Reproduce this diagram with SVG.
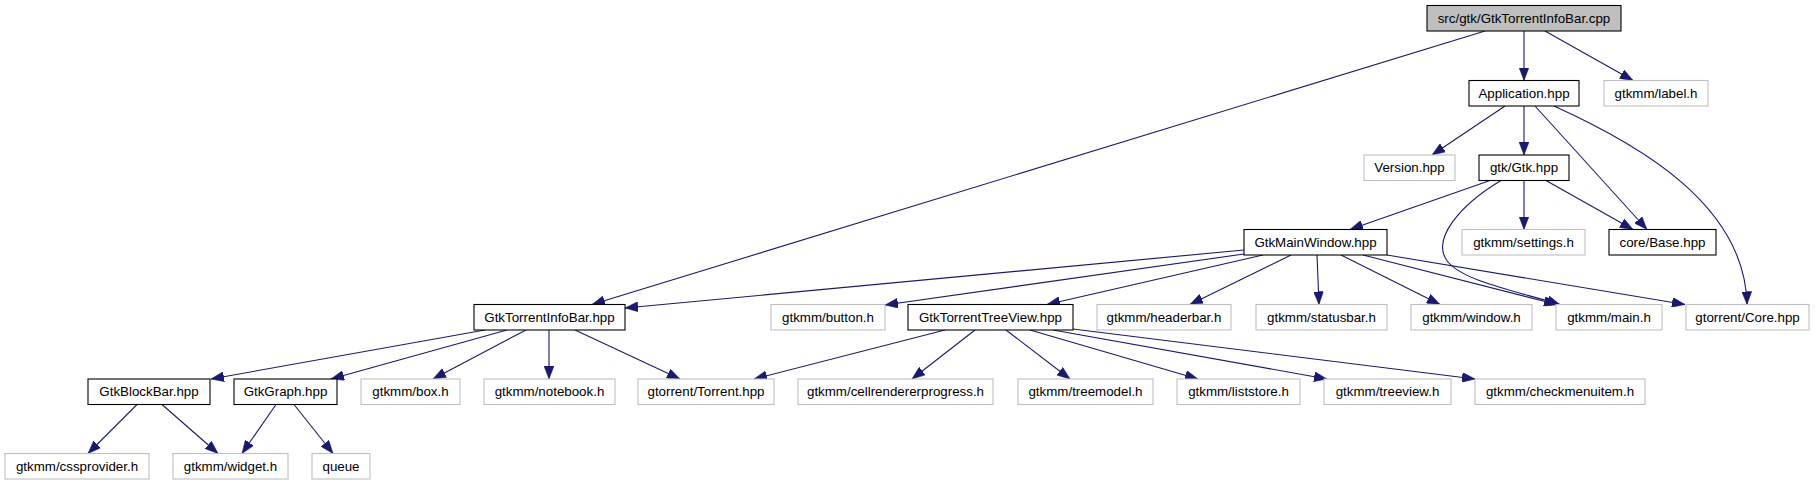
<svg xmlns="http://www.w3.org/2000/svg" width="1815" height="485" viewBox="0 0 1815 485">
<style>
.n rect{stroke-width:1.1}
.doc rect{fill:#ffffff;stroke:#000000}
.und rect{fill:#ffffff;stroke:#bfbfbf}
.root rect{fill:#bfbfbf;stroke:#000000}
text{font-family:"Liberation Sans",Arial,sans-serif;font-size:13.33px;fill:#000000;text-anchor:middle}
#edges path{fill:none;stroke:#191970;stroke-width:1.1;marker-end:url(#ah)}
</style>
<defs>
<marker id="ah" markerUnits="userSpaceOnUse" viewBox="0 0 13 10" refX="13" refY="5" markerWidth="13" markerHeight="10" orient="auto">
<path d="M0,0 L13,5 L0,10 z" fill="#191970" stroke="#191970" stroke-width="0.5"/>
</marker>
</defs>
<rect x="0" y="0" width="1815" height="485" fill="#ffffff"/>
<g id="edges">
<path d="M1524,31 L1524,80.5"/>
<path d="M1545,31 L1633,80.5"/>
<path d="M1485,31 L592,304.5"/>
<path d="M1505,106 L1432,155"/>
<path d="M1524,106 L1524,155"/>
<path d="M1535,106 L1647,229.5"/>
<path d="M1554,106 C1640,145 1745,205 1747,304.5"/>
<path d="M1490,180.5 L1350,229.5"/>
<path d="M1524,180.5 L1524,229.5"/>
<path d="M1546,180.5 L1633,229.5"/>
<path d="M1501,180.5 C1460,205 1430,240 1448,262 C1465,282 1520,292 1560,304.5"/>
<path d="M1244,250 L625,308"/>
<path d="M1244,254 L885,305"/>
<path d="M1263,255 L1047,304.5"/>
<path d="M1291,255 L1190,304.5"/>
<path d="M1317,255 L1319,304.5"/>
<path d="M1341,255 L1440,304.5"/>
<path d="M1363,255 L1557,304.5"/>
<path d="M1387,255 L1685,304.5"/>
<path d="M485,330 L211,379"/>
<path d="M507,330 L331,379"/>
<path d="M526,330 L433,379"/>
<path d="M549,330 L549,379"/>
<path d="M575,330 L680,379"/>
<path d="M945,330 L754,379"/>
<path d="M975,330 L912,379"/>
<path d="M1006,330 L1070,379"/>
<path d="M1030,330 L1198,379"/>
<path d="M1053,330 L1327,379"/>
<path d="M1073,329 L1475,379"/>
<path d="M137,404.5 L88,453.5"/>
<path d="M162,404.5 L218,453.5"/>
<path d="M276,404.5 L242,453.5"/>
<path d="M294,404.5 L333,453.5"/>
</g>
<g id="n_root" class="n root"><rect x="1427" y="5.5" width="194" height="25.5"/><text x="1524" y="22.5">src/gtk/GtkTorrentInfoBar.cpp</text></g>
<g id="n_application" class="n doc"><rect x="1469" y="80.5" width="110" height="25.5"/><text x="1524" y="97.5">Application.hpp</text></g>
<g id="n_label" class="n und"><rect x="1604" y="80.5" width="104" height="25.5"/><text x="1656" y="97.5">gtkmm/label.h</text></g>
<g id="n_version" class="n und"><rect x="1364" y="155" width="91" height="25.5"/><text x="1409.5" y="172">Version.hpp</text></g>
<g id="n_gtk" class="n doc"><rect x="1479" y="155" width="90" height="25.5"/><text x="1524" y="172">gtk/Gtk.hpp</text></g>
<g id="n_mainwindow" class="n doc"><rect x="1244" y="229.5" width="143" height="25.5"/><text x="1315.5" y="246.5">GtkMainWindow.hpp</text></g>
<g id="n_settings" class="n und"><rect x="1462" y="229.5" width="123" height="25.5"/><text x="1523.5" y="246.5">gtkmm/settings.h</text></g>
<g id="n_base" class="n doc"><rect x="1609" y="229.5" width="107" height="25.5"/><text x="1662.5" y="246.5">core/Base.hpp</text></g>
<g id="n_infobar" class="n doc"><rect x="474" y="304.5" width="151" height="25.5"/><text x="549.5" y="321.5">GtkTorrentInfoBar.hpp</text></g>
<g id="n_button" class="n und"><rect x="771" y="304.5" width="114" height="25.5"/><text x="828" y="321.5">gtkmm/button.h</text></g>
<g id="n_treeviewhpp" class="n doc"><rect x="908" y="304.5" width="165" height="25.5"/><text x="990.5" y="321.5">GtkTorrentTreeView.hpp</text></g>
<g id="n_headerbar" class="n und"><rect x="1097" y="304.5" width="134" height="25.5"/><text x="1164" y="321.5">gtkmm/headerbar.h</text></g>
<g id="n_statusbar" class="n und"><rect x="1256" y="304.5" width="131" height="25.5"/><text x="1321.5" y="321.5">gtkmm/statusbar.h</text></g>
<g id="n_window" class="n und"><rect x="1411" y="304.5" width="121" height="25.5"/><text x="1471.5" y="321.5">gtkmm/window.h</text></g>
<g id="n_main" class="n und"><rect x="1556" y="304.5" width="106" height="25.5"/><text x="1609" y="321.5">gtkmm/main.h</text></g>
<g id="n_core" class="n und"><rect x="1686" y="304.5" width="123" height="25.5"/><text x="1747.5" y="321.5">gtorrent/Core.hpp</text></g>
<g id="n_blockbar" class="n doc"><rect x="88" y="379" width="122" height="25.5"/><text x="149" y="396">GtkBlockBar.hpp</text></g>
<g id="n_graph" class="n doc"><rect x="234" y="379" width="103" height="25.5"/><text x="285.5" y="396">GtkGraph.hpp</text></g>
<g id="n_box" class="n und"><rect x="361" y="379" width="99" height="25.5"/><text x="410.5" y="396">gtkmm/box.h</text></g>
<g id="n_notebook" class="n und"><rect x="484" y="379" width="131" height="25.5"/><text x="549.5" y="396">gtkmm/notebook.h</text></g>
<g id="n_torrent" class="n und"><rect x="638" y="379" width="136" height="25.5"/><text x="706" y="396">gtorrent/Torrent.hpp</text></g>
<g id="n_cellrenderer" class="n und"><rect x="798" y="379" width="195" height="25.5"/><text x="895.5" y="396">gtkmm/cellrendererprogress.h</text></g>
<g id="n_treemodel" class="n und"><rect x="1018" y="379" width="135" height="25.5"/><text x="1085.5" y="396">gtkmm/treemodel.h</text></g>
<g id="n_liststore" class="n und"><rect x="1177" y="379" width="123" height="25.5"/><text x="1238.5" y="396">gtkmm/liststore.h</text></g>
<g id="n_treeview" class="n und"><rect x="1324" y="379" width="127" height="25.5"/><text x="1387.5" y="396">gtkmm/treeview.h</text></g>
<g id="n_checkmenuitem" class="n und"><rect x="1475" y="379" width="170" height="25.5"/><text x="1560" y="396">gtkmm/checkmenuitem.h</text></g>
<g id="n_cssprovider" class="n und"><rect x="5" y="453.5" width="144" height="25.5"/><text x="77" y="470.5">gtkmm/cssprovider.h</text></g>
<g id="n_widget" class="n und"><rect x="173" y="453.5" width="115" height="25.5"/><text x="230.5" y="470.5">gtkmm/widget.h</text></g>
<g id="n_queue" class="n und"><rect x="312" y="453.5" width="58" height="25.5"/><text x="341" y="470.5">queue</text></g>
</svg>
